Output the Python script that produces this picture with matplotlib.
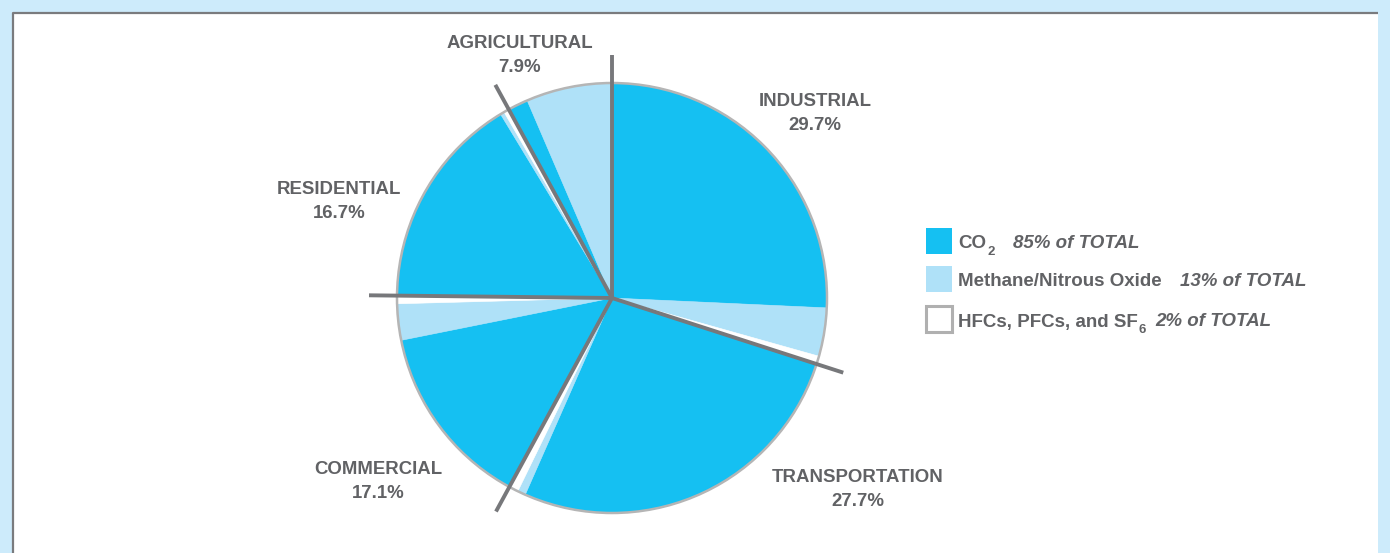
"""
U.S. greenhouse gas emissions by end-use sector, split by gas type.
"""

import matplotlib.pyplot as plt
from matplotlib.patches import Rectangle, Circle
import numpy as np

# Sector shares (percent of total) and the gas split inside each sector
sectors = ['INDUSTRIAL', 'TRANSPORTATION', 'COMMERCIAL', 'RESIDENTIAL', 'AGRICULTURAL']
sector_share = [29.7, 27.7, 17.1, 16.7, 7.9]
co2_share = [25.5, 26.4, 13.8, 16.0, 1.5]
methane_share = [3.6, 0.6, 2.7, 0.3, 6.4]
hfc_share = [0.6, 0.7, 0.6, 0.4, 0.0]

legend_names = ['CO', 'Methane/Nitrous Oxide', 'HFCs, PFCs, and SF']
legend_subs = ['2', '', '6']
legend_totals = ['85% of TOTAL', '13% of TOTAL', '2% of TOTAL']

CO2_COLOR = '#15c0f2'
METH_COLOR = '#afe1f8'
HFC_COLOR = '#ffffff'
TEXT_GRAY = '#616265'
LINE_GRAY = '#77787b'
OUTLINE = '#b5b5b5'
BG_BLUE = '#cdebfb'

W, H = 1390, 553
FONT = 'Liberation Sans'

fig = plt.figure(figsize=(W / 100, H / 100), dpi=100)
fig.patch.set_facecolor(BG_BLUE)
ax = fig.add_axes([0, 0, 1, 1])
ax.set_xlim(0, W)
ax.set_ylim(0, H)
ax.set_aspect('equal')
ax.axis('off')


def py(y):
    # pixel rows counted from the top
    return H - y


# white panel with a dark edge on top and left
ax.add_patch(Rectangle((12, 0), W - 24, py(12), facecolor='white', edgecolor='none', zorder=0))
ax.plot([12.5, 12.5, W - 12], [0, py(12.5), py(12.5)], color='#7a7b7e', lw=1.6, zorder=1,
        solid_capstyle='butt')

cx, cy, r = 612, py(298), 215

# flatten the sub-slices clockwise: CO2, methane, HFC for every sector
values, colors = [], []
for c, m, h in zip(co2_share, methane_share, hfc_share):
    for v, col in ((c, CO2_COLOR), (m, METH_COLOR), (h, HFC_COLOR)):
        if v > 0:
            values.append(v)
            colors.append(col)

wedges, _ = ax.pie(values, colors=colors, startangle=90, counterclock=False,
                   center=(cx, cy), radius=r, frame=True,
                   wedgeprops=dict(linewidth=0.4, edgecolor='none'))
for w, col in zip(wedges, colors):
    w.set_edgecolor(col)
    w.set_zorder(2)
ax.set_xlim(0, W)
ax.set_ylim(0, H)
ax.axis('off')

ax.add_patch(Circle((cx, cy), r, facecolor='none', edgecolor=OUTLINE, lw=1.8, zorder=3))

# sector dividers, running a bit past the rim
total = sum(sector_share)
cum = np.concatenate([[0], np.cumsum(sector_share)])
for frac in cum[:-1] / total:
    ang = np.deg2rad(90 - 360 * frac)
    L = 243
    ax.plot([cx, cx + L * np.cos(ang)], [cy, cy + L * np.sin(ang)],
            color=LINE_GRAY, lw=2.8, solid_capstyle='butt', zorder=4)

# sector labels
label_pos = [(815, 102), (858, 478), (378, 469), (339, 189), (520, 43)]
for name, share, (lx, ly) in zip(sectors, sector_share, label_pos):
    ax.text(lx, py(ly), name, ha='center', va='center', fontsize=13.4,
            fontweight='bold', color=TEXT_GRAY, family=FONT, zorder=5)
    ax.text(lx, py(ly + 24), f'{share:.1f}%', ha='center', va='center', fontsize=13.4,
            fontweight='bold', color=TEXT_GRAY, family=FONT, zorder=5)

# legend
box_y = [228, 266, 306]
sw_colors = [CO2_COLOR, METH_COLOR, HFC_COLOR]
total_x = [1013, 1180, 1155]
for name, sub, tot, y0, col, tx in zip(legend_names, legend_subs, legend_totals,
                                       box_y, sw_colors, total_x):
    edge = '#b0b0b0' if col == HFC_COLOR else 'none'
    ax.add_patch(Rectangle((925.5, py(y0 + 26)), 26, 26, facecolor=col, edgecolor=edge,
                           lw=2.2, zorder=5))
    ty = py(y0 + 16)
    t = ax.text(958, ty, name, ha='left', va='center', fontsize=13.5, fontweight='bold',
                color=TEXT_GRAY, family=FONT, zorder=5)
    if sub:
        fig.canvas.draw()
        bb = t.get_window_extent()
        ax.text(bb.x1 + 1, ty - 8, sub, ha='left', va='center', fontsize=9.5,
                fontweight='bold', color=TEXT_GRAY, family=FONT, zorder=5)
    ax.text(tx, ty, tot, ha='left', va='center', fontsize=13.5, fontweight='bold',
            fontstyle='italic', color=TEXT_GRAY, family=FONT, zorder=5)

fig.savefig('out.png', dpi=100, facecolor=fig.get_facecolor())
